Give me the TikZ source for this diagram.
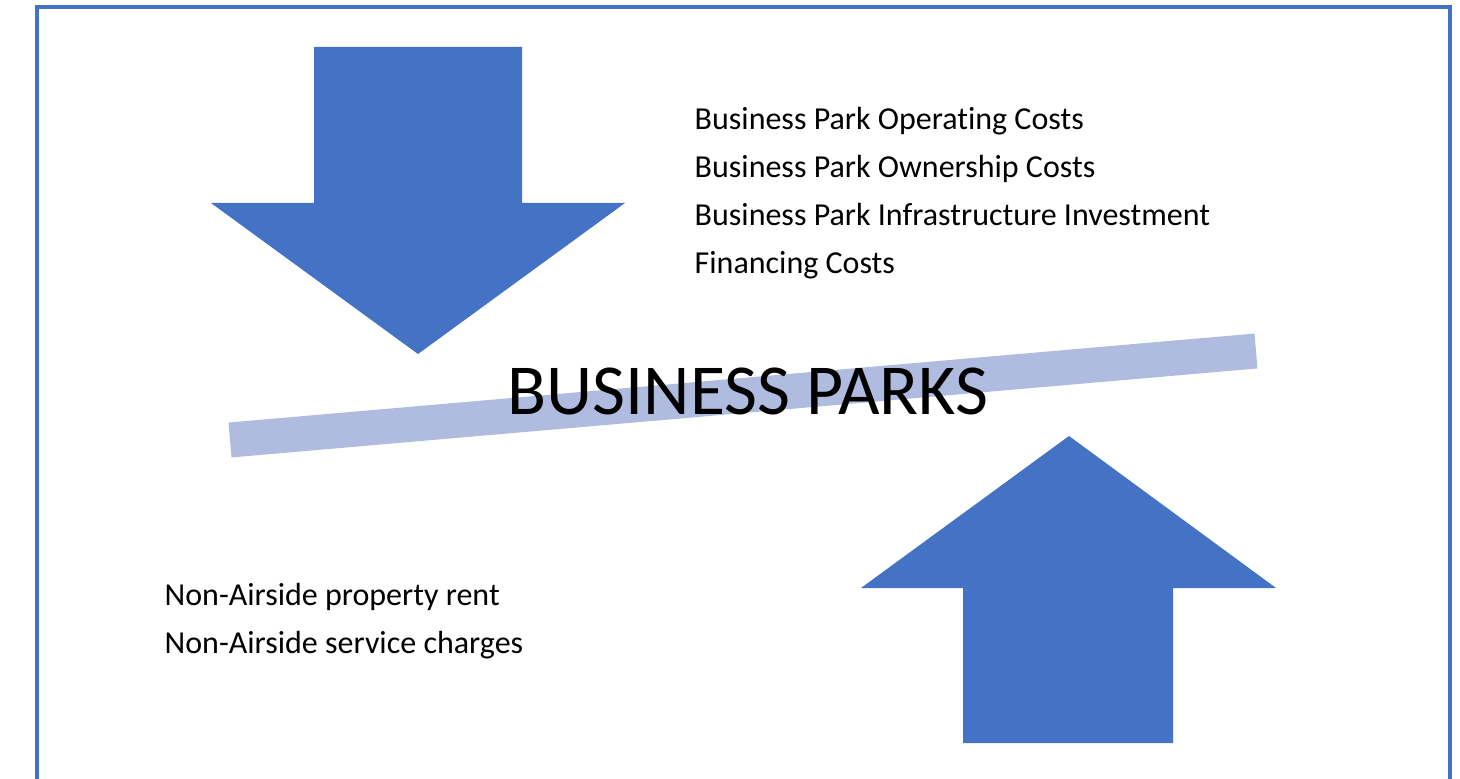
\documentclass[tikz,border=0pt]{standalone}
\usepackage{fontspec}
\setmainfont{Carlito}[Ligatures=NoCommon]
\usepackage{tikz}

\definecolor{arrowblue}{RGB}{68,114,196}
\definecolor{barblue}{RGB}{176,188,223}

\tikzset{
  item/.style={anchor=base west, inner sep=0pt, font=\fontsize{9.1}{11}\selectfont},
  title/.style={anchor=base west, inner sep=0pt, font=\fontsize{20.4}{24}\selectfont}
}

\begin{document}
\begin{tikzpicture}[x=0.01cm, y=-0.01cm]

\useasboundingbox (0,0) rectangle (1460,779);

\draw[arrowblue, line width=0.9pt] (37,7) rectangle (1450,800);

% costs going in
\fill[arrowblue] (314,47) -- (522,47) -- (522,203) -- (625,203) -- (418,354)
  -- (211,203) -- (314,203) -- cycle;

% income coming out
\fill[arrowblue] (963,743) -- (1173,743) -- (1173,588) -- (1276,588) -- (1069,436)
  -- (861,588) -- (963,588) -- cycle;

\draw[barblue, line width=0.35cm] (230,440) -- (1256,351);

\node[title] (bp) at (507,415) {BUSINESS PARKS};

\node[item] (c1) at (694,130) {Business Park Operating Costs};
\node[item] (c2) at (694,178) {Business Park Ownership Costs};
\node[item] (c3) at (694,226) {Business Park Infrastructure Investment};
\node[item] (c4) at (694,274) {Financing Costs};

\node[item] (r1) at (164,605) {Non-Airside property rent};
\node[item] (r2) at (164,653) {Non-Airside service charges};

\end{tikzpicture}
\end{document}
